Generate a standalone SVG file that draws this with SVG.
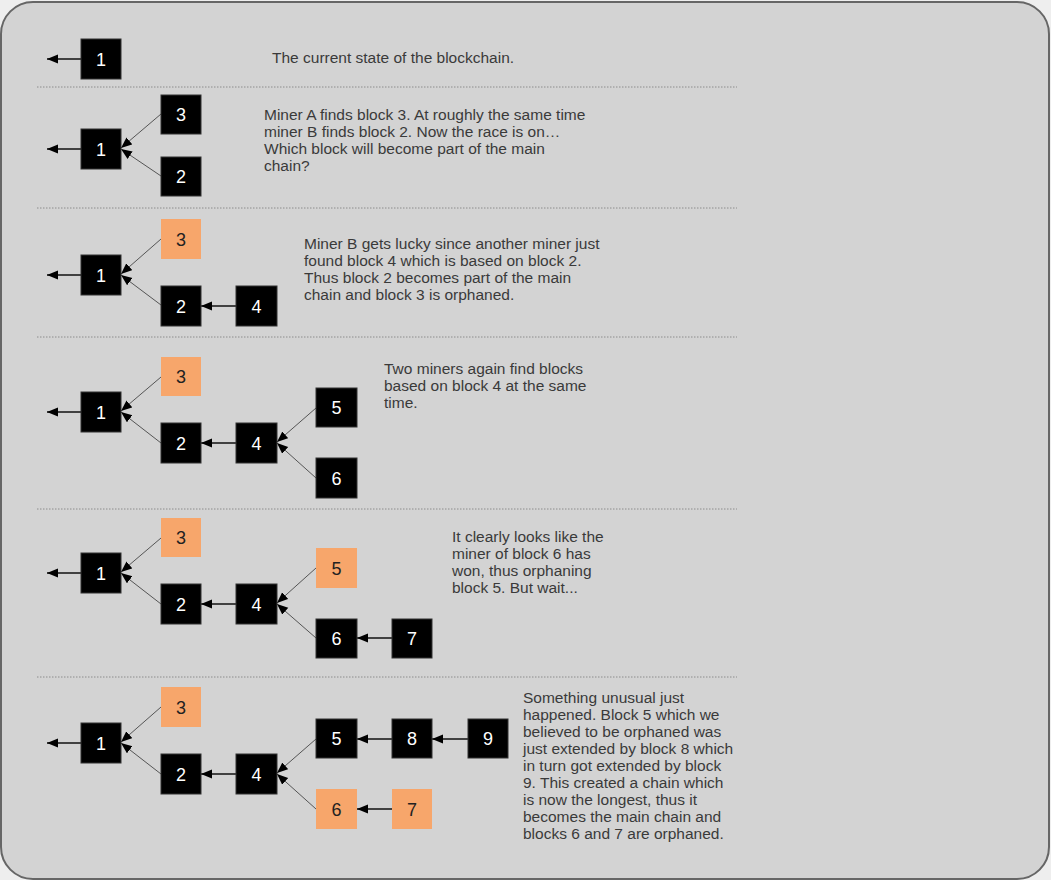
<svg xmlns="http://www.w3.org/2000/svg" width="1051" height="880" viewBox="0 0 1051 880">
<defs>
<style>
.blk rect{fill:#000;stroke:#333;stroke-width:1}
.blk text{fill:#fff;font-family:"Liberation Sans",Arial,sans-serif;font-size:18px;text-anchor:middle}
.orp rect{fill:#f7a66b;stroke:none}
.orp text{fill:#222;font-family:"Liberation Sans",Arial,sans-serif;font-size:18px;text-anchor:middle}
.div{stroke:#8c8c8c;stroke-width:1;stroke-dasharray:1.5,1.5}
.desc{fill:#3a3a3a;font-family:"Liberation Sans",Arial,sans-serif;font-size:15.5px}
.d{stroke:#555;stroke-width:1;fill:none;marker-end:url(#ah)}
.h{stroke:#111;stroke-width:1.6;fill:none;marker-end:url(#ah)}
</style>
<marker id="ah" markerUnits="userSpaceOnUse" markerWidth="12" markerHeight="10" refX="11" refY="4.5" orient="auto">
<path d="M0,0 L11,4.5 L0,9 z" fill="#000"/>
</marker>
</defs>
<rect width="1051" height="880" fill="#eeeeee"/>
<rect x="1" y="2" width="1048" height="877" rx="32" ry="32" fill="#d3d3d3" stroke="#666" stroke-width="2"/>
<g id="dividers">
<line class="div" x1="37" y1="87" x2="737" y2="87"/>
<line class="div" x1="37" y1="208" x2="737" y2="208"/>
<line class="div" x1="37" y1="337" x2="737" y2="337"/>
<line class="div" x1="37" y1="509" x2="737" y2="509"/>
<line class="div" x1="37" y1="677" x2="737" y2="677"/>
</g>
<g id="connectors">
<line class="h" x1="81" y1="59" x2="47" y2="59"/>
<line class="h" x1="81" y1="149" x2="47" y2="149"/>
<line class="d" x1="161" y1="114" x2="121" y2="148"/>
<line class="d" x1="161" y1="176" x2="121" y2="149"/>
<line class="h" x1="81" y1="275" x2="47" y2="275"/>
<line class="d" x1="161" y1="239" x2="121" y2="274"/>
<line class="d" x1="161" y1="305" x2="121" y2="275"/>
<line class="h" x1="236" y1="306" x2="201" y2="306"/>
<line class="h" x1="81" y1="412" x2="47" y2="412"/>
<line class="d" x1="161" y1="377" x2="121" y2="411"/>
<line class="d" x1="161" y1="443" x2="121" y2="412"/>
<line class="h" x1="236" y1="443" x2="201" y2="443"/>
<line class="d" x1="316" y1="408" x2="277" y2="442"/>
<line class="d" x1="316" y1="478" x2="277" y2="443"/>
<line class="h" x1="81" y1="573" x2="47" y2="573"/>
<line class="d" x1="161" y1="538" x2="121" y2="572"/>
<line class="d" x1="161" y1="604" x2="121" y2="573"/>
<line class="h" x1="236" y1="604" x2="201" y2="604"/>
<line class="d" x1="316" y1="568" x2="277" y2="603"/>
<line class="d" x1="316" y1="638" x2="277" y2="604"/>
<line class="h" x1="392" y1="638" x2="357" y2="638"/>
<line class="h" x1="81" y1="743" x2="47" y2="743"/>
<line class="d" x1="161" y1="707" x2="121" y2="742"/>
<line class="d" x1="161" y1="774" x2="121" y2="743"/>
<line class="h" x1="236" y1="774" x2="201" y2="774"/>
<line class="d" x1="316" y1="739" x2="277" y2="773"/>
<line class="d" x1="316" y1="809" x2="277" y2="774"/>
<line class="h" x1="392" y1="739" x2="357" y2="739"/>
<line class="h" x1="468" y1="739" x2="432" y2="739"/>
<line class="h" x1="392" y1="809" x2="357" y2="809"/>
</g>
<g id="s1-b1" class="blk"><rect x="81" y="39" width="40" height="40"/><text x="101" y="66">1</text></g>
<text class="desc" x="272" y="63">The current state of the blockchain.</text>

<g id="s2-b3" class="blk"><rect x="161" y="95" width="40" height="39"/><text x="181" y="121">3</text></g>
<g id="s2-b1" class="blk"><rect x="81" y="129" width="40" height="40"/><text x="101" y="156">1</text></g>
<g id="s2-b2" class="blk"><rect x="161" y="157" width="40" height="39"/><text x="181" y="183">2</text></g>
<text class="desc" x="264" y="120">Miner A finds block 3. At roughly the same time</text>
<text class="desc" x="264" y="137">miner B finds block 2. Now the race is on…</text>
<text class="desc" x="264" y="154">Which block will become part of the main</text>
<text class="desc" x="264" y="171">chain?</text>

<g id="s3-b3" class="orp"><rect x="161" y="219" width="40" height="40"/><text x="181" y="246">3</text></g>
<g id="s3-b1" class="blk"><rect x="81" y="255" width="40" height="40"/><text x="101" y="282">1</text></g>
<g id="s3-b2" class="blk"><rect x="161" y="286" width="40" height="40"/><text x="181" y="313">2</text></g>
<g id="s3-b4" class="blk"><rect x="236" y="286" width="41" height="40"/><text x="256.5" y="313">4</text></g>
<text class="desc" x="304" y="249">Miner B gets lucky since another miner just</text>
<text class="desc" x="304" y="266">found block 4 which is based on block 2.</text>
<text class="desc" x="304" y="283">Thus block 2 becomes part of the main</text>
<text class="desc" x="304" y="300">chain and block 3 is orphaned.</text>

<g id="s4-b3" class="orp"><rect x="161" y="357" width="40" height="39"/><text x="181" y="383">3</text></g>
<g id="s4-b1" class="blk"><rect x="81" y="392" width="40" height="40"/><text x="101" y="419">1</text></g>
<g id="s4-b2" class="blk"><rect x="161" y="423" width="40" height="40"/><text x="181" y="450">2</text></g>
<g id="s4-b4" class="blk"><rect x="236" y="423" width="41" height="40"/><text x="256.5" y="450">4</text></g>
<g id="s4-b5" class="blk"><rect x="316" y="388" width="41" height="39"/><text x="336.5" y="414">5</text></g>
<g id="s4-b6" class="blk"><rect x="316" y="458" width="41" height="40"/><text x="336.5" y="485">6</text></g>
<text class="desc" x="384" y="374">Two miners again find blocks</text>
<text class="desc" x="384" y="391">based on block 4 at the same</text>
<text class="desc" x="384" y="408">time.</text>

<g id="s5-b3" class="orp"><rect x="161" y="518" width="40" height="39"/><text x="181" y="544">3</text></g>
<g id="s5-b1" class="blk"><rect x="81" y="553" width="40" height="40"/><text x="101" y="580">1</text></g>
<g id="s5-b2" class="blk"><rect x="161" y="584" width="40" height="40"/><text x="181" y="611">2</text></g>
<g id="s5-b4" class="blk"><rect x="236" y="584" width="41" height="40"/><text x="256.5" y="611">4</text></g>
<g id="s5-b5" class="orp"><rect x="316" y="548" width="41" height="40"/><text x="336.5" y="575">5</text></g>
<g id="s5-b6" class="blk"><rect x="316" y="619" width="41" height="39"/><text x="336.5" y="645">6</text></g>
<g id="s5-b7" class="blk"><rect x="392" y="619" width="40" height="39"/><text x="412" y="645">7</text></g>
<text class="desc" x="452" y="542">It clearly looks like the</text>
<text class="desc" x="452" y="559">miner of block 6 has</text>
<text class="desc" x="452" y="576">won, thus orphaning</text>
<text class="desc" x="452" y="593">block 5. But wait...</text>

<g id="s6-b3" class="orp"><rect x="161" y="687" width="40" height="40"/><text x="181" y="714">3</text></g>
<g id="s6-b1" class="blk"><rect x="81" y="723" width="40" height="40"/><text x="101" y="750">1</text></g>
<g id="s6-b2" class="blk"><rect x="161" y="754" width="40" height="40"/><text x="181" y="781">2</text></g>
<g id="s6-b4" class="blk"><rect x="236" y="754" width="41" height="40"/><text x="256.5" y="781">4</text></g>
<g id="s6-b5" class="blk"><rect x="316" y="719" width="41" height="39"/><text x="336.5" y="745">5</text></g>
<g id="s6-b8" class="blk"><rect x="392" y="719" width="40" height="39"/><text x="412" y="745">8</text></g>
<g id="s6-b9" class="blk"><rect x="468" y="719" width="40" height="39"/><text x="488" y="745">9</text></g>
<g id="s6-b6" class="orp"><rect x="316" y="789" width="41" height="40"/><text x="336.5" y="816">6</text></g>
<g id="s6-b7" class="orp"><rect x="392" y="789" width="40" height="40"/><text x="412" y="816">7</text></g>
<text class="desc" x="523" y="703">Something unusual just</text>
<text class="desc" x="523" y="720">happened. Block 5 which we</text>
<text class="desc" x="523" y="737">believed to be orphaned was</text>
<text class="desc" x="523" y="754">just extended by block 8 which</text>
<text class="desc" x="523" y="771">in turn got extended by block</text>
<text class="desc" x="523" y="788">9. This created a chain which</text>
<text class="desc" x="523" y="805">is now the longest, thus it</text>
<text class="desc" x="523" y="822">becomes the main chain and</text>
<text class="desc" x="523" y="839">blocks 6 and 7 are orphaned.</text>
</svg>
